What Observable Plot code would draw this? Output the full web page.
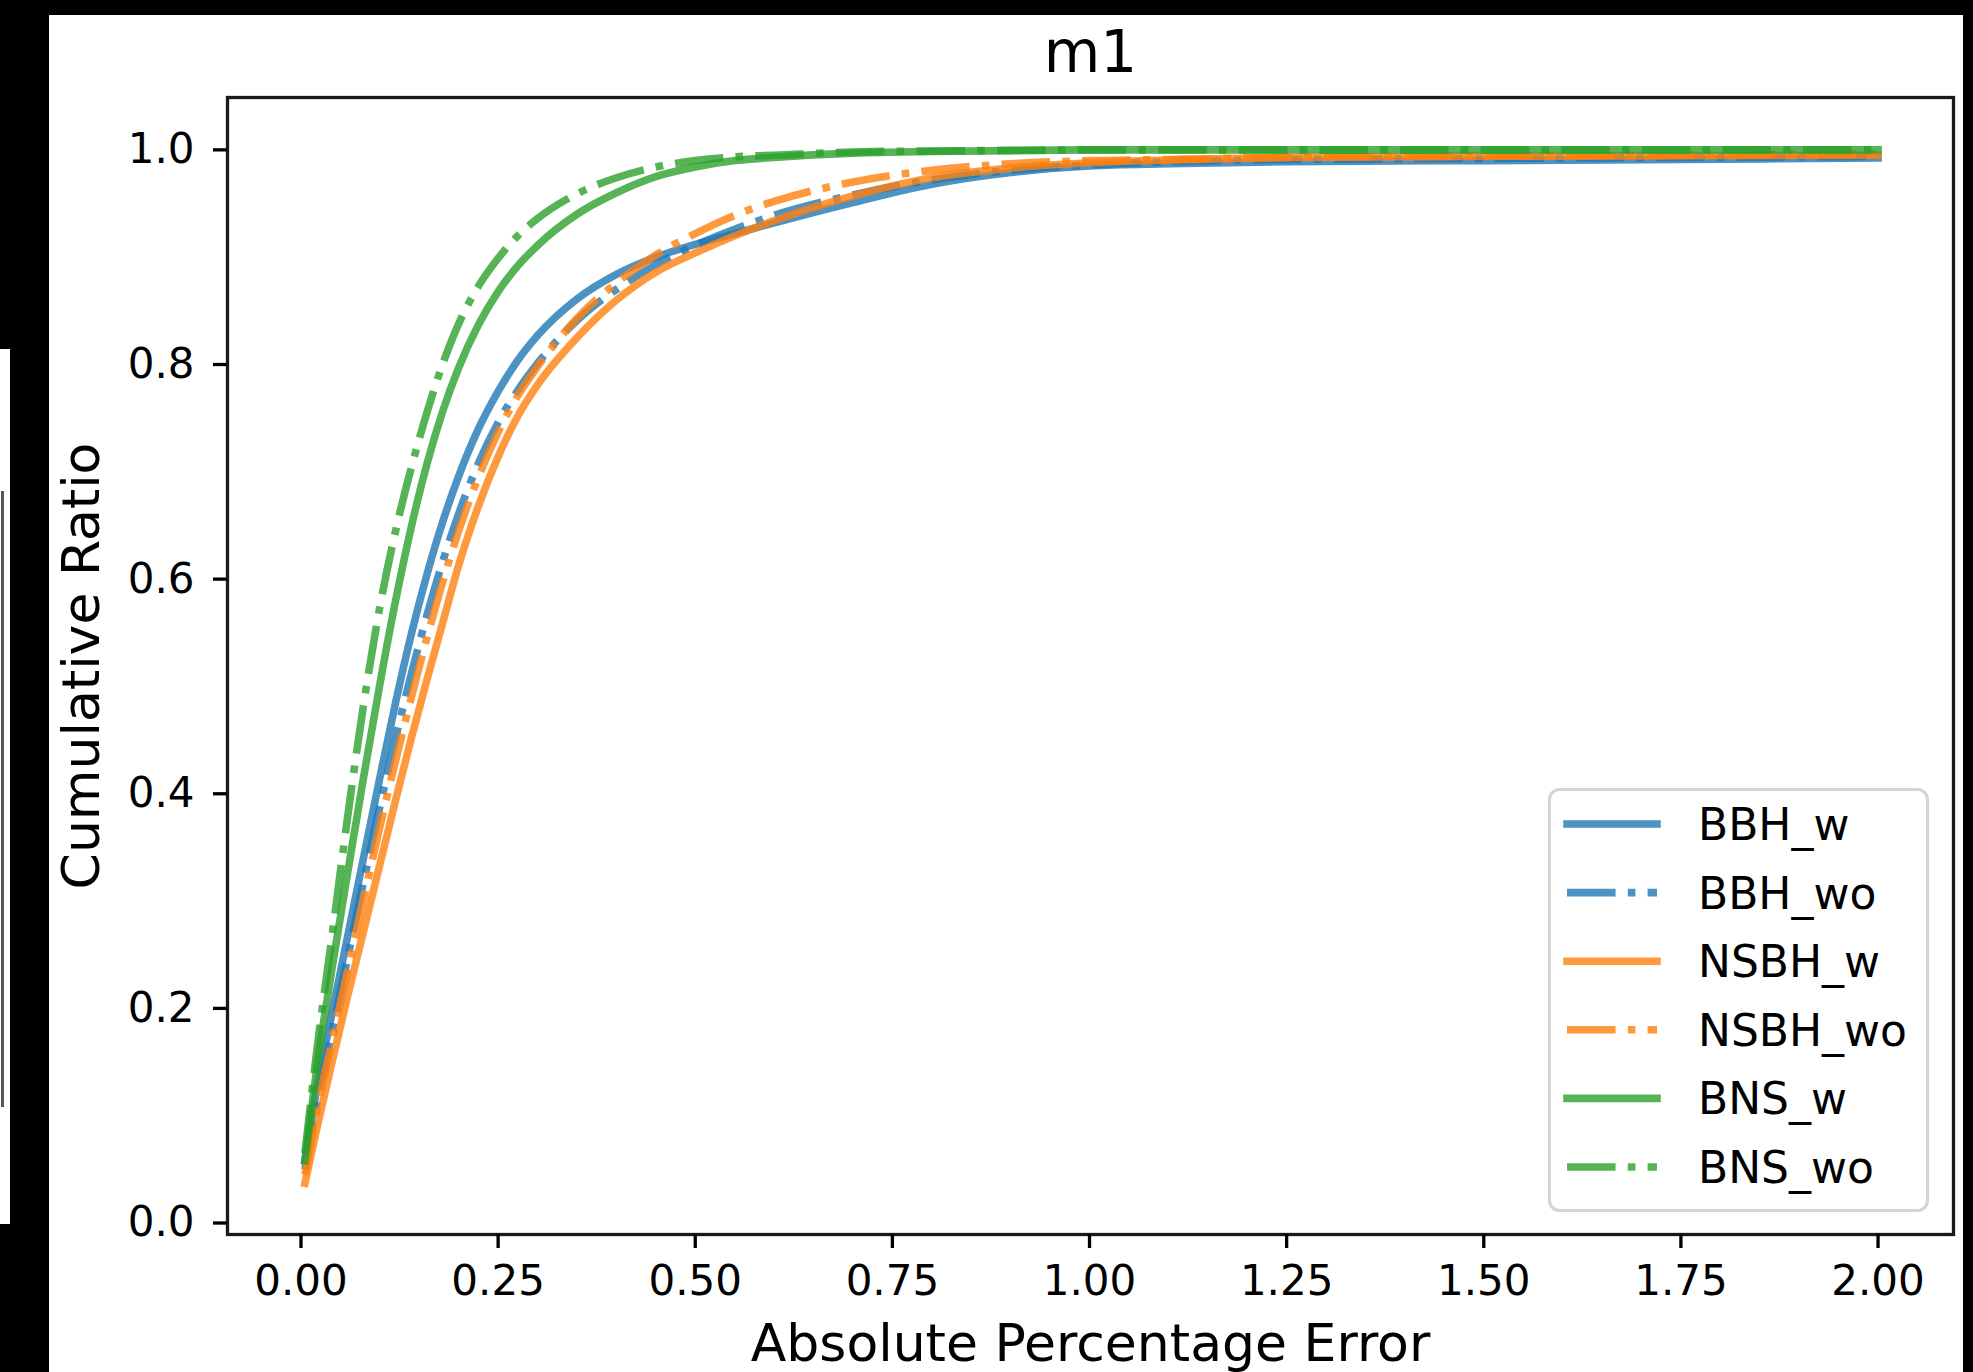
<!DOCTYPE html>
<html>
<head>
<meta charset="utf-8">
<script src="https://cdn.jsdelivr.net/npm/d3@7"></script>
<script src="https://cdn.jsdelivr.net/npm/@observablehq/plot@0.6"></script>
<style>
html, body { margin: 0; padding: 0; background: #000; }
#page { position: relative; width: 1973px; height: 1372px; background: #000; overflow: hidden; font-family: "DejaVu Sans"; }
#canvas { position: absolute; left: 49px; top: 15px; width: 1914px; height: 1357px; background: #fff; }
#sidepanel { position: absolute; left: 0; top: 349px; width: 10px; height: 875px; background: #fff; }
#sideline { position: absolute; left: 1px; top: 142px; width: 3px; height: 616px; background: #555; }
#chart { position: absolute; left: 49px; top: 15px; }
#legend { position: absolute; left: 1548px; top: 788px; }
</style>
</head>
<body>
<div id="page">
  <div id="canvas"></div>
  <div id="sidepanel"><div id="sideline"></div></div>
  <div id="chart"></div>
  <svg id="legend" width="381" height="424"></svg>
</div>
<script>
// ---- data ----
const title = "m1";
const xLabel = "Absolute Percentage Error";
const yLabel = "Cumulative Ratio";
const xTicks = [0, 0.25, 0.5, 0.75, 1.0, 1.25, 1.5, 1.75, 2.0];
const yTicks = [0, 0.2, 0.4, 0.6, 0.8, 1.0];

const series = ["BBH_w", "BBH_wo", "NSBH_w", "NSBH_wo", "BNS_w", "BNS_wo"];
const seriesColors = ["#1f77b4", "#1f77b4", "#ff7f0e", "#ff7f0e", "#2ca02c", "#2ca02c"];
const seriesDashed = [false, true, false, true, false, true];

const xGrid  = [0.005, 0.02, 0.04, 0.06, 0.08, 0.10, 0.12, 0.14, 0.16, 0.18, 0.20, 0.225, 0.25, 0.275, 0.30, 0.35, 0.40, 0.45, 0.50, 0.55, 0.60, 0.70, 0.80, 0.90, 1.00, 1.10, 1.25, 1.50, 1.75, 2.00];
const bbhW   = [0.058, 0.125, 0.198, 0.270, 0.343, 0.415, 0.485, 0.549, 0.605, 0.654, 0.696, 0.740, 0.775, 0.804, 0.827, 0.861, 0.884, 0.900, 0.912, 0.922, 0.932, 0.951, 0.968, 0.979, 0.985, 0.987, 0.989, 0.990, 0.991, 0.9925];
const bbhWo  = [0.050, 0.112, 0.180, 0.250, 0.320, 0.388, 0.452, 0.512, 0.567, 0.617, 0.661, 0.708, 0.746, 0.776, 0.801, 0.841, 0.870, 0.893, 0.911, 0.926, 0.939, 0.958, 0.972, 0.981, 0.986, 0.989, 0.991, 0.992, 0.993, 0.994];
const nsbhW  = [0.037, 0.088, 0.152, 0.214, 0.274, 0.334, 0.394, 0.452, 0.507, 0.560, 0.613, 0.668, 0.714, 0.752, 0.781, 0.825, 0.860, 0.886, 0.904, 0.920, 0.934, 0.957, 0.974, 0.983, 0.988, 0.9905, 0.993, 0.994, 0.9945, 0.995];
const nsbhWo = [0.045, 0.105, 0.172, 0.238, 0.304, 0.369, 0.431, 0.490, 0.546, 0.598, 0.645, 0.695, 0.737, 0.771, 0.798, 0.843, 0.876, 0.902, 0.922, 0.939, 0.952, 0.970, 0.981, 0.987, 0.990, 0.991, 0.993, 0.994, 0.995, 0.996];
const bnsW   = [0.058, 0.144, 0.240, 0.330, 0.418, 0.502, 0.580, 0.649, 0.708, 0.757, 0.797, 0.837, 0.868, 0.892, 0.911, 0.940, 0.960, 0.975, 0.984, 0.990, 0.993, 0.997, 0.9985, 0.9993, 1.0, 1.0, 1.0, 1.0, 1.0, 1.0];
const bnsWo  = [0.065, 0.160, 0.271, 0.383, 0.486, 0.574, 0.645, 0.704, 0.756, 0.801, 0.838, 0.873, 0.899, 0.920, 0.936, 0.959, 0.974, 0.984, 0.990, 0.9935, 0.995, 0.998, 0.999, 0.9995, 1.0, 1.0, 1.0, 1.0, 1.0, 1.0];
const seriesValues = [bbhW, bbhWo, nsbhW, nsbhWo, bnsW, bnsWo];

// ---- build table ----
const rows = series.flatMap((s, i) => xGrid.map((x, j) => ({series: s, x, y: seriesValues[i][j]})));

const LW = 7.6;
const DASH = "48.6 12.2 7.6 12.2";

const lineMarks = series.map((s, i) => Plot.line(rows.filter(d => d.series === s), {
  x: "x", y: "y",
  stroke: seriesColors[i],
  strokeOpacity: 0.8,
  strokeWidth: LW,
  strokeDasharray: seriesDashed[i] ? DASH : null,
  strokeLinecap: seriesDashed[i] ? "butt" : "square",
  strokeLinejoin: "round",
  curve: "monotone-x"
}));

const chart = Plot.plot({
  width: 1914,
  height: 1357,
  marginLeft: 178,
  marginRight: 10,
  marginTop: 82,
  marginBottom: 138,
  style: {fontFamily: "DejaVu Sans", fontSize: "42px", color: "black", background: "transparent", overflow: "visible"},
  x: {domain: [-0.0932, 2.0957]},
  y: {domain: [-0.0107, 1.0488]},
  marks: [
    ...lineMarks,
    Plot.frame({stroke: "#1a1a1a", strokeWidth: 3.3}),
    Plot.axisX({ticks: xTicks, tickFormat: d3.format(".2f"), tickSize: 14, tickPadding: 17, fontSize: 42, strokeWidth: 3.3, label: null}),
    Plot.axisY({ticks: yTicks, tickFormat: d3.format(".1f"), tickSize: 14, tickPadding: 19, fontSize: 42, strokeWidth: 3.3, label: null}),
    Plot.text([title], {text: d => d, frameAnchor: "top", textAnchor: "middle", lineAnchor: "middle", dy: -43.6, fontSize: 58, fill: "black"}),
    Plot.text([xLabel], {text: d => d, frameAnchor: "bottom", textAnchor: "middle", lineAnchor: "middle", dy: 109.4, fontSize: 52, fill: "black"}),
    Plot.text([yLabel], {text: d => d, frameAnchor: "left", textAnchor: "middle", lineAnchor: "middle", dx: -145.6, rotate: -90, fontSize: 52, fill: "black"})
  ]
});
document.getElementById("chart").appendChild(chart);

// ---- legend ----
const leg = d3.select("#legend");
leg.append("rect")
  .attr("x", 1.5).attr("y", 1.5).attr("width", 378).attr("height", 421)
  .attr("rx", 10).attr("ry", 10)
  .attr("fill", "rgba(255,255,255,0.8)")
  .attr("stroke", "#d4d4d4").attr("stroke-width", 3);
series.forEach((s, i) => {
  const cy = 36 + i * 68.6;
  leg.append("line")
    .attr("x1", 19).attr("x2", 109).attr("y1", cy).attr("y2", cy)
    .attr("stroke", seriesColors[i]).attr("stroke-opacity", 0.8)
    .attr("stroke-width", LW)
    .attr("stroke-dasharray", seriesDashed[i] ? DASH : null)
    .attr("stroke-linecap", seriesDashed[i] ? "butt" : "square");
  leg.append("text")
    .attr("x", 150).attr("y", cy + 16)
    .attr("font-family", "DejaVu Sans").attr("font-size", 44)
    .attr("fill", "black")
    .text(s);
});
</script>
</body>
</html>
